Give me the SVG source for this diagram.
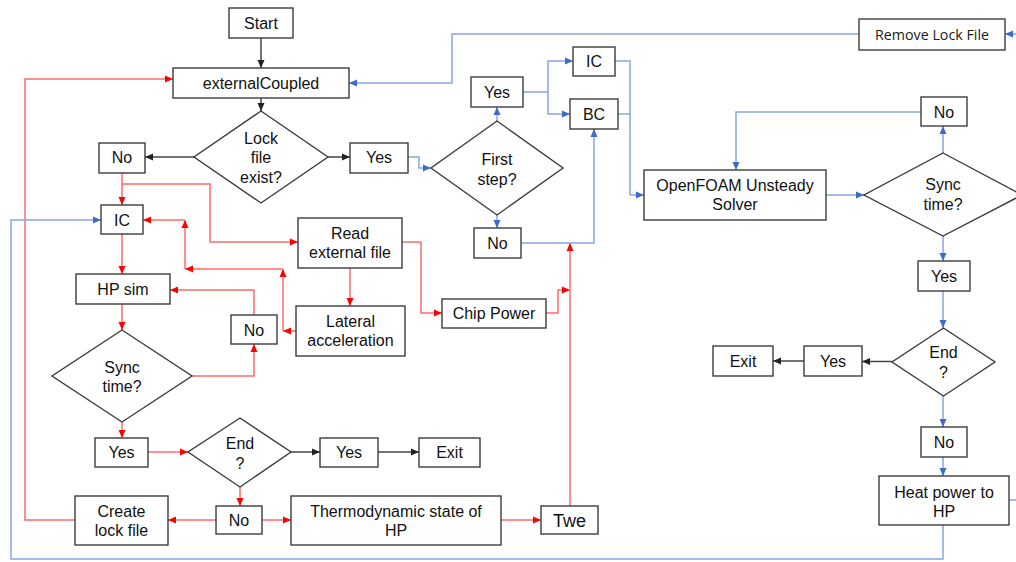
<svg xmlns="http://www.w3.org/2000/svg" width="1016" height="562" viewBox="0 0 1016 562">
<defs>
<marker id="ak" markerUnits="userSpaceOnUse" markerWidth="10" markerHeight="10" refX="9" refY="5" orient="auto"><path d="M1,1.5 L9,5 L1,8.5 Z" fill="#222"/></marker>
<marker id="ar" markerUnits="userSpaceOnUse" markerWidth="10" markerHeight="10" refX="9" refY="5" orient="auto"><path d="M1,1.5 L9,5 L1,8.5 Z" fill="#ff0000"/></marker>
<marker id="ab" markerUnits="userSpaceOnUse" markerWidth="10" markerHeight="10" refX="9" refY="5" orient="auto"><path d="M1,1.5 L9,5 L1,8.5 Z" fill="#3a6cc8"/></marker>
</defs>
<style>
rect,polygon{fill:#fff;stroke:#3c3c3c;stroke-width:1.4}
text{font-family:"Liberation Sans",Arial,sans-serif;font-size:16px;fill:#111;text-anchor:middle}
.rl{font-family:"Open Sans","Noto Sans",sans-serif;font-size:14.5px;fill:#1a1a1a}
.tw{font-size:18px}
#connectors path{fill:none;stroke-width:1.5}
.k{stroke:#444;marker-end:url(#ak)}
.r{stroke:#ff6b6b;marker-end:url(#ar)}
.b{stroke:#88a6dc;marker-end:url(#ab)}
.rn{stroke:#ff6b6b}
.bn{stroke:#88a6dc}
</style>
<rect width="1016" height="562" style="fill:#fff;stroke:none"/>
<g id="connectors">
<path class="k" d="M261,38 V68"/>
<path class="k" d="M261,98 V111"/>
<path class="k" d="M194,157 H145"/>
<path class="k" d="M328,157 H350"/>
<path class="k" d="M291,452 H320"/>
<path class="k" d="M378,452 H419"/>
<path class="k" d="M892,361.5 H862"/>
<path class="k" d="M804,361 H773"/>
<path class="r" d="M122,173 V205"/>
<path class="r" d="M122,184 H210 V242 H298"/>
<path class="r" d="M122,234 V274"/>
<path class="r" d="M122,304 V330"/>
<path class="r" d="M192,376 H254 V344"/>
<path class="r" d="M254,315 V290 H170"/>
<path class="r" d="M296,331 H283"/>
<path class="r" d="M283,331 V269"/>
<path class="r" d="M283,269 H185"/>
<path class="r" d="M185,269 V220"/>
<path class="r" d="M185,220 H143"/>
<path class="r" d="M350,268 V306"/>
<path class="r" d="M402,242 H421 V313 H442"/>
<path class="r" d="M546,313 H558 V290 H570"/>
<path class="r" d="M570,506 V243"/>
<path class="r" d="M122,422 V438"/>
<path class="r" d="M148,452 H188"/>
<path class="r" d="M240,487 V506"/>
<path class="r" d="M216,520 H168"/>
<path class="r" d="M262,520 H291"/>
<path class="r" d="M501,520 H541"/>
<path class="r" d="M75,520 H25 V79 H173"/>
<path class="b" d="M408,157 H419 V168 H431"/>
<path class="b" d="M497,121 V107"/>
<path class="b" d="M523,92 H548 V61 H573"/>
<path class="b" d="M548,92 V114 H570"/>
<path class="b" d="M497,215 V228"/>
<path class="b" d="M521,243 H594 V129"/>
<path class="bn" d="M615,61 H630 V195"/>
<path class="bn" d="M618,114 H630"/>
<path class="b" d="M630,195 H644"/>
<path class="b" d="M826,195 H864"/>
<path class="b" d="M943,153 V126"/>
<path class="b" d="M921,112 H736 V170"/>
<path class="b" d="M943,236 V261"/>
<path class="b" d="M943,291 V328"/>
<path class="b" d="M943,396 V427"/>
<path class="b" d="M943,457 V476"/>
<path class="bn" d="M1009,500 H1016"/>
<path class="b" d="M943,525 V559 H11 V220 H101"/>
<path class="b" d="M1016,34 H1005"/>
<path class="b" d="M859,34 H452 V83 H349"/>
</g>
<g id="start"><rect x="229" y="8" width="64" height="30"/><text x="261" y="29">Start</text></g>
<g id="externalCoupled"><rect x="173" y="68" width="176" height="30"/><text x="261" y="89">externalCoupled</text></g>
<g id="lockExist"><polygon points="261,111 328,157 261,203 194,157"/><text x="261" y="144">Lock</text><text x="261" y="163">file</text><text x="261" y="183">exist?</text></g>
<g id="no1"><rect x="99" y="143" width="46" height="30"/><text x="122" y="163">No</text></g>
<g id="yes1"><rect x="350" y="143" width="58" height="30"/><text x="379" y="163">Yes</text></g>
<g id="firstStep"><polygon points="497,121 563,168 497,215 431,168"/><text x="497" y="165">First</text><text x="497" y="185">step?</text></g>
<g id="yes2"><rect x="471" y="77" width="52" height="30"/><text x="497" y="98">Yes</text></g>
<g id="ic2"><rect x="573" y="47" width="42" height="29"/><text x="594" y="67">IC</text></g>
<g id="bc"><rect x="570" y="99" width="48" height="30"/><text x="594" y="120">BC</text></g>
<g id="no2"><rect x="474" y="228" width="47" height="30"/><text x="497.5" y="249">No</text></g>
<g id="removeLock"><rect x="859" y="19" width="146" height="31"/><text class="rl" x="932" y="40" textLength="114" lengthAdjust="spacingAndGlyphs">Remove Lock File</text></g>
<g id="openfoam"><rect x="644" y="170" width="182" height="50"/><text x="735" y="191">OpenFOAM Unsteady</text><text x="735" y="210">Solver</text></g>
<g id="sync2"><polygon points="943,153 1022,195 943,236 864,195"/><text x="943" y="190">Sync</text><text x="943" y="210">time?</text></g>
<g id="no3"><rect x="921" y="97" width="46" height="29"/><text x="944" y="118">No</text></g>
<g id="yes3"><rect x="918" y="261" width="52" height="30"/><text x="944" y="282">Yes</text></g>
<g id="end2"><polygon points="943.5,328 995,362 943.5,396 892,362"/><text x="943.5" y="358">End</text><text x="943.5" y="378">?</text></g>
<g id="yes4"><rect x="804" y="346" width="58" height="30"/><text x="833" y="367">Yes</text></g>
<g id="exit2"><rect x="713" y="346" width="60" height="30"/><text x="743" y="367">Exit</text></g>
<g id="no4"><rect x="921" y="427" width="46" height="30"/><text x="944" y="448">No</text></g>
<g id="heatPower"><rect x="879" y="476" width="130" height="49"/><text x="944" y="498">Heat power to</text><text x="944" y="517">HP</text></g>
<g id="ic1"><rect x="101" y="205" width="42" height="29"/><text x="122" y="226">IC</text></g>
<g id="hpSim"><rect x="76" y="274" width="94" height="30"/><text x="123" y="295">HP sim</text></g>
<g id="sync1"><polygon points="122,330 192,376 122,422 52,376"/><text x="122" y="373">Sync</text><text x="122" y="392">time?</text></g>
<g id="noL"><rect x="231" y="315" width="46" height="29"/><text x="254" y="336">No</text></g>
<g id="readFile"><rect x="298" y="218" width="104" height="50"/><text x="350" y="239">Read</text><text x="350" y="258">external  file</text></g>
<g id="lateral"><rect x="296" y="306" width="109" height="50"/><text x="350.5" y="327">Lateral</text><text x="350.5" y="346">acceleration</text></g>
<g id="chipPower"><rect x="442" y="299" width="104" height="29"/><text x="494" y="319">Chip Power</text></g>
<g id="yes5"><rect x="95" y="438" width="53" height="29"/><text x="121.5" y="458">Yes</text></g>
<g id="end1"><polygon points="240,418 291,452 240,487 188,452"/><text x="240" y="449">End</text><text x="240" y="469">?</text></g>
<g id="yes6"><rect x="320" y="438" width="58" height="29"/><text x="349" y="458">Yes</text></g>
<g id="exit1"><rect x="419" y="438" width="61" height="29"/><text x="449.5" y="458">Exit</text></g>
<g id="no5"><rect x="216" y="506" width="46" height="28"/><text x="239" y="526">No</text></g>
<g id="createLock"><rect x="75" y="496" width="93" height="49"/><text x="121.5" y="517">Create</text><text x="121.5" y="536">lock file</text></g>
<g id="thermo"><rect x="291" y="496" width="210" height="49"/><text x="396" y="517">Thermodynamic  state of</text><text x="396" y="536">HP</text></g>
<g id="twe"><rect x="541" y="506" width="57" height="28"/><text class="tw" x="569.5" y="527">Twe</text></g>
</svg>
